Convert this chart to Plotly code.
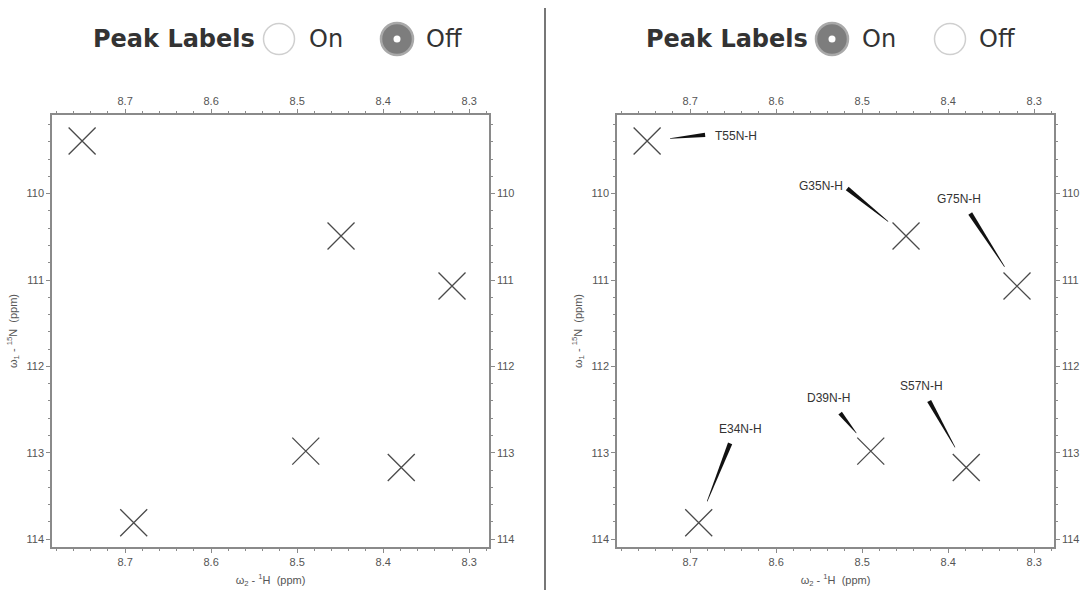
import numpy as np
import plotly.graph_objects as go

# ---------------- data ----------------
peak_names = ["T55N-H", "G35N-H", "G75N-H", "D39N-H", "S57N-H", "E34N-H"]
peak_h = [8.750, 8.449, 8.320, 8.490, 8.379, 8.690]          # omega2 - 1H (ppm)
peak_n = [109.39, 110.49, 111.07, 112.98, 113.17, 113.81]    # omega1 - 15N (ppm)
label_h = [8.673, 8.5756, 8.415, 8.567, 8.458, 8.669]        # label text anchor
label_n = [109.33, 109.91, 110.06, 112.37, 112.23, 112.72]
leader_h = [8.6826, 8.5174, 8.3744, 8.5256, 8.4221, 8.6535]  # wide end of leader wedge
leader_n = [109.32, 109.94, 110.23, 112.54, 112.40, 112.89]
x_ticks = [8.7, 8.6, 8.5, 8.4, 8.3]
y_ticks = [110, 111, 112, 113, 114]
x_range = [8.785, 8.277]
y_range = [114.09, 109.09]

W, H = 1080, 594
AX_COL = "#8a8a8a"
TICK_FONT = dict(family="Liberation Sans, Arial", size=11, color="#555")

dom_left = [52 / W, 489 / W]
dom_right = [617 / W, 1054 / W]
dom_y = [1 - 547 / H, 1 - 115 / H]

fig = go.Figure()

def xaxis_cfg(domain, side, anchor, overlay=None, title=None):
    d = dict(domain=domain, range=x_range, anchor=anchor, side=side,
             tickvals=x_ticks, ticktext=[f"{v:.1f}" for v in x_ticks],
             ticks="outside", ticklen=4, tickwidth=1, tickcolor=AX_COL,
             minor=dict(dtick=0.02, tick0=8.3, ticks="outside", ticklen=2, tickcolor=AX_COL),
             showline=True, linecolor=AX_COL, linewidth=1.5,
             showgrid=False, zeroline=False, tickfont=TICK_FONT, fixedrange=True)
    if overlay:
        d["overlaying"] = overlay
    if title:
        d["title"] = dict(text=title, font=dict(family="Liberation Sans, Arial", size=11, color="#555"), standoff=9)
    return d

def yaxis_cfg(domain, side, anchor, overlay=None, title=None):
    d = dict(domain=domain, range=y_range, anchor=anchor, side=side,
             tickvals=y_ticks, ticktext=[str(v) for v in y_ticks],
             ticks="outside", ticklen=4, tickwidth=1, tickcolor=AX_COL,
             minor=dict(dtick=0.2, tick0=110, ticks="outside", ticklen=2, tickcolor=AX_COL),
             showline=True, linecolor=AX_COL, linewidth=1.5,
             showgrid=False, zeroline=False, tickfont=TICK_FONT, fixedrange=True)
    if overlay:
        d["overlaying"] = overlay
    if title:
        d["title"] = dict(text=title, font=dict(family="Liberation Sans, Arial", size=11, color="#555"), standoff=7)
    return d

xt = "ω<sub>2</sub> - <sup>1</sup>H  (ppm)"
yt = "ω<sub>1</sub> - <sup>15</sup>N  (ppm)"

marker = dict(symbol="x-thin", size=27, line=dict(width=1.3, color="#4a4a4a"), color="#4a4a4a")

# left panel (labels off)
fig.add_trace(go.Scatter(x=peak_h, y=peak_n, mode="markers", marker=marker,
                         xaxis="x", yaxis="y", hoverinfo="skip", showlegend=False))
fig.add_trace(go.Scatter(x=[], y=[], xaxis="x3", yaxis="y", showlegend=False))
fig.add_trace(go.Scatter(x=[], y=[], xaxis="x", yaxis="y3", showlegend=False))
# right panel (labels on)
fig.add_trace(go.Scatter(x=peak_h, y=peak_n, mode="markers", marker=marker,
                         xaxis="x2", yaxis="y2", hoverinfo="skip", showlegend=False))
fig.add_trace(go.Scatter(x=[], y=[], xaxis="x4", yaxis="y2", showlegend=False))
fig.add_trace(go.Scatter(x=[], y=[], xaxis="x2", yaxis="y4", showlegend=False))

fig.update_layout(
    xaxis=xaxis_cfg(dom_left, "bottom", "y", title=xt),
    yaxis=yaxis_cfg(dom_y, "left", "x", title=yt),
    xaxis3=xaxis_cfg(dom_left, "top", "y", overlay="x"),
    yaxis3=yaxis_cfg(dom_y, "right", "x", overlay="y"),
    xaxis2=xaxis_cfg(dom_right, "bottom", "y2", title=xt),
    yaxis2=yaxis_cfg(dom_y, "left", "x2", title=yt),
    xaxis4=xaxis_cfg(dom_right, "top", "y2", overlay="x2"),
    yaxis4=yaxis_cfg(dom_y, "right", "x2", overlay="y2"),
)

# ------------- leader wedges (computed from data) -------------
sx = (dom_right[1] - dom_right[0]) * W / abs(x_range[1] - x_range[0])
sy = (dom_y[1] - dom_y[0]) * H / abs(y_range[1] - y_range[0])
gap_px, wide_px, thin_px = 23.0, 4.5, 0.6
shapes = []
for ph, pn, lh, ln in zip(peak_h, peak_n, leader_h, leader_n):
    P = np.array([-ph * sx, pn * sy])
    L = np.array([-lh * sx, ln * sy])
    d = P - L
    u = d / np.linalg.norm(d)
    T = P - u * gap_px
    nrm = np.array([-u[1], u[0]])
    pts = [L + nrm * wide_px / 2, T + nrm * thin_px / 2, T - nrm * thin_px / 2, L - nrm * wide_px / 2]
    path = "M " + " L ".join(f"{-p[0] / sx:.5f},{p[1] / sy:.5f}" for p in pts) + " Z"
    shapes.append(dict(type="path", xref="x2", yref="y2", path=path,
                       fillcolor="#111", line=dict(width=0)))

# separator line
shapes.append(dict(type="line", xref="paper", yref="paper", x0=545 / W, x1=545 / W,
                   y0=1 - 590 / H, y1=1 - 8 / H, line=dict(color="#777", width=2)))

# radio buttons
def circle(cx, cy, r, fill, line_col, lw):
    return dict(type="circle", xref="paper", yref="paper",
                x0=(cx - r) / W, x1=(cx + r) / W, y0=1 - (cy + r) / H, y1=1 - (cy - r) / H,
                fillcolor=fill, line=dict(color=line_col, width=lw))

HY = 39
for off, on_selected in [(0, False), (553, True)]:
    c_on, c_off = 279 + off, 397 + off
    sel, uns = (c_on, c_off) if on_selected else (c_off, c_on)
    shapes.append(circle(uns, HY, 15.5, "white", "#cfcfcf", 1.5))
    shapes.append(circle(sel, HY, 16, "#7d7d7d", "#a9a9a9", 2.5))
    shapes.append(circle(sel, HY, 3.5, "white", "white", 0))

annotations = []
for off in (0, 553):
    annotations.append(dict(xref="paper", yref="paper", x=91 / W + off / W, y=1 - HY / H,
                            xanchor="left", yanchor="middle", showarrow=False,
                            text="<b>Peak Labels</b>",
                            font=dict(family="DejaVu Sans", size=24, color="#333")))
    annotations.append(dict(xref="paper", yref="paper", x=(307 + off) / W, y=1 - HY / H,
                            xanchor="left", yanchor="middle", showarrow=False, text="On",
                            font=dict(family="DejaVu Sans", size=24, color="#333")))
    annotations.append(dict(xref="paper", yref="paper", x=(424 + off) / W, y=1 - HY / H,
                            xanchor="left", yanchor="middle", showarrow=False, text="Off",
                            font=dict(family="DejaVu Sans", size=24, color="#333")))

for name, lh, ln in zip(peak_names, label_h, label_n):
    annotations.append(dict(xref="x2", yref="y2", x=lh, y=ln, xanchor="left", yanchor="middle",
                            showarrow=False, text=name,
                            font=dict(family="Liberation Sans, Arial", size=12, color="#333")))

fig.update_layout(width=W, height=H, margin=dict(l=0, r=0, t=0, b=0),
                  paper_bgcolor="white", plot_bgcolor="white",
                  shapes=shapes, annotations=annotations, showlegend=False)

fig.write_html("out.html", config={"displayModeBar": False},
               post_script="document.body.style.margin='0';document.body.style.padding='0';")
